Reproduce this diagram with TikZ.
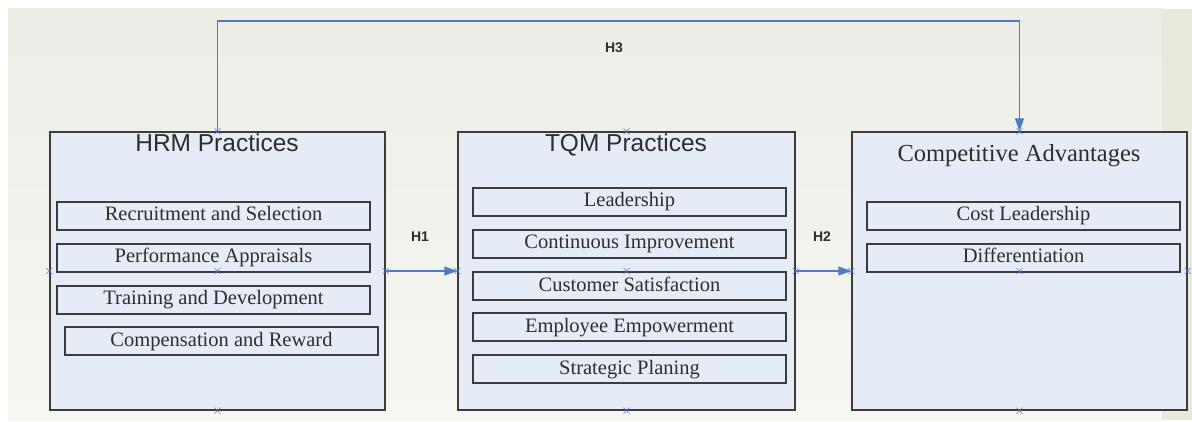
\documentclass[tikz,border=0pt]{standalone}
\usepackage{fontspec}
\setmainfont{Liberation Serif}
\setsansfont{Liberation Sans}
\usetikzlibrary{arrows.meta}
\definecolor{bgtop}{HTML}{ECEEE6}
\definecolor{bgbot}{HTML}{F6F6F3}
\definecolor{strip}{HTML}{E7EADD}
\definecolor{boxfill}{HTML}{E6ECF5}
\definecolor{boxline}{HTML}{3C3C3C}
\definecolor{arrowc}{HTML}{4F7CC0}
\definecolor{crossc}{HTML}{5A78C8}
\definecolor{txt}{HTML}{2E2E2E}
\tikzset{
  bigbox/.style={draw=boxline, fill=boxfill, line width=1.4pt, minimum width=335pt, minimum height=278pt, inner sep=0pt},
  itembox/.style={draw=boxline, fill=boxfill, line width=1.2pt, minimum width=313pt, minimum height=28pt, inner sep=0pt, text height=14pt, text depth=4pt, font=\fontsize{20.5}{22}\selectfont, text=txt},
  sanstitle/.style={font=\sffamily\fontsize{24.5}{27}\selectfont, text=txt, inner sep=0pt, text height=18pt, text depth=5pt},
  seriftitle/.style={font=\fontsize{24.5}{27}\selectfont, text=txt, inner sep=0pt, text height=17pt, text depth=5pt},
  hlabel/.style={font=\sffamily\bfseries\fontsize{14}{16}\selectfont, text=txt, inner sep=0pt},
  conn/.style={draw=arrowc, line width=1.4pt, -{Triangle[length=13pt,width=9pt]}},
  xmark/.style={draw=crossc, line width=0.6pt}
}
\newcommand{\xm}[1]{\draw[xmark] ([shift={(-3pt,-3pt)}]#1) -- ([shift={(3pt,3pt)}]#1) ([shift={(-3pt,3pt)}]#1) -- ([shift={(3pt,-3pt)}]#1);}
\begin{document}
\begin{tikzpicture}[x=1pt,y=-1pt]
\useasboundingbox (0,0) rectangle (1192,422);
\fill[white] (0,0) rectangle (1192,422);
\shade[top color=bgtop, bottom color=bgbot] (8,9) rectangle (1162,420);
\fill[strip] (1162,9) rectangle (1192,420);

% big boxes
\node[bigbox] (hrm) at (217.5,271) {};
\node[bigbox, minimum width=337pt] (tqm) at (626.5,271) {};
\node[bigbox] (ca) at (1019.5,271) {};

% titles
\node[sanstitle] (hrmt) at (217,145) {HRM Practices};
\node[sanstitle] (tqmt) at (626,145) {TQM Practices};
\node[seriftitle] (cat) at (1019,156) {Competitive Advantages};

% HRM items
\node[itembox] (r1) at (213.5,216) {Recruitment and Selection};
\node[itembox] (r2) at (213.5,258) {Performance Appraisals};
\node[itembox] (r3) at (213.5,300) {Training and Development};
\node[itembox] (r4) at (221.5,341) {Compensation and Reward};

% TQM items
\node[itembox] (t1) at (629.5,202) {Leadership};
\node[itembox] (t2) at (629.5,244) {Continuous Improvement};
\node[itembox] (t3) at (629.5,286) {Customer Satisfaction};
\node[itembox] (t4) at (629.5,327) {Employee Empowerment};
\node[itembox] (t5) at (629.5,369) {Strategic Planing};

% CA items
\node[itembox] (c1) at (1023.5,216) {Cost Leadership};
\node[itembox] (c2) at (1023.5,258) {Differentiation};

% connectors
\draw[conn] (hrm.east) -- (tqm.west);
\draw[conn] (tqm.east) -- (ca.west);
\coordinate (h3a) at (217.5,21);
\coordinate (h3b) at (1019.5,21);
\draw[conn] (hrm.north) -- (h3a) -- (h3b) -- (ca.north);

\node[hlabel] (h1) at (420,237) {H1};
\node[hlabel] (h2) at (822,237) {H2};
\node[hlabel] (h3) at (614,48) {H3};

% connection point markers
\foreach \b in {hrm,tqm,ca}{
  \xm{\b.north}
  \xm{\b.south}
  \xm{\b.east}
  \xm{\b.west}
  \xm{\b.center}
}
\end{tikzpicture}
\end{document}
